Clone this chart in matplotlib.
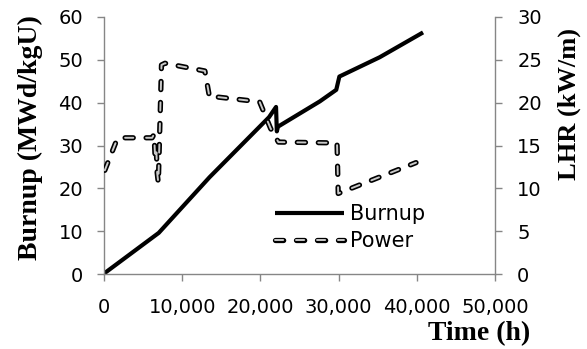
import matplotlib
matplotlib.use("Agg")
import matplotlib.pyplot as plt
import matplotlib.patheffects as pe
from matplotlib.ticker import FuncFormatter


# burnup history (left axis)
time_burnup = [0, 7000, 13500, 21100, 22000, 22100, 22250, 27600, 29700, 30100, 35250, 40800]
burnup = [0.1, 9.6, 22.6, 36.6, 39.0, 33.3, 34.4, 40.3, 43.0, 46.1, 50.6, 56.4]

# linear heat rate history (right axis)
time_power = [100, 1700, 2100, 6150, 6400, 6550, 6700, 6800, 6950, 7350, 7800,
              12900, 13500, 14100, 19900, 21300, 22300, 29800, 29950, 39900]
power = [12.1, 15.8, 15.9, 15.9, 16.3, 13.3, 14.2, 11.8, 10.6, 24.4, 24.6,
         23.7, 20.6, 20.7, 20.1, 17.0, 15.4, 15.3, 9.4, 13.0]

x_ticks = [0, 10000, 20000, 30000, 40000, 50000]
left_ticks = [0, 10, 20, 30, 40, 50, 60]
right_ticks = [0, 5, 10, 15, 20, 25, 30]

axis_grey = "#868686"
tick_font = 14

fig = plt.figure(figsize=(5.87, 3.49), dpi=100)
ax = fig.add_axes([104 / 587, 1 - 274 / 349, 391 / 587, 257 / 349])
ax2 = ax.twinx()

(burn_line,) = ax.plot(time_burnup, burnup, color="black", lw=3,
                       solid_capstyle="butt", label="Burnup")
(pow_line,) = ax2.plot(time_power, power, color="#c8c8c8", lw=1.4,
                       dashes=(4.2, 6.6), dash_capstyle="round",
                       dash_joinstyle="round", label="Power")
pow_line.set_path_effects([pe.Stroke(linewidth=3.8, foreground="black"), pe.Normal()])

ax.set_xlim(0, 50000)
ax.set_ylim(0, 60)
ax2.set_ylim(0, 30)
ax.set_xticks(x_ticks)
ax.set_yticks(left_ticks)
ax2.set_yticks(right_ticks)
ax.xaxis.set_major_formatter(FuncFormatter(lambda v, p: f"{int(v):,}"))

for a in (ax, ax2):
    for s in a.spines.values():
        s.set_color(axis_grey)
        s.set_linewidth(1)
    a.spines["top"].set_visible(False)
ax.spines["right"].set_visible(False)
ax2.spines["left"].set_visible(False)
ax2.spines["bottom"].set_visible(False)

ax.tick_params(axis="x", direction="out", length=5, width=1, color=axis_grey,
               labelsize=tick_font, pad=12)
ax.tick_params(axis="y", direction="out", length=5, width=1, color=axis_grey,
               labelsize=tick_font, pad=10)
ax2.tick_params(axis="y", direction="out", length=5, width=1, color=axis_grey,
                labelsize=tick_font, pad=11)

leg = ax2.legend(handles=[burn_line, pow_line], loc="upper left",
                 bbox_to_anchor=(171 / 391, 1 - 187 / 257), frameon=False,
                 fontsize=15, handlelength=3.3, handletextpad=0.3,
                 labelspacing=0.35, borderaxespad=0, borderpad=0)

serif = ["Liberation Serif", "DejaVu Serif"]
fig.text(30 / 587, 1 - 138 / 349, "Burnup (MWd/kgU)", rotation=90, ha="center",
         va="center", fontsize=20, fontweight="bold", family=serif)
fig.text(569 / 587, 1 - 104 / 349, "LHR (kW/m)", rotation=90, ha="center",
         va="center", fontsize=19, fontweight="bold", family=serif)
fig.text(530 / 587, 1 - 334 / 349, "Time (h)", ha="right", va="center",
         fontsize=20, fontweight="bold", family=serif)

fig.savefig("out.png", dpi=100)
